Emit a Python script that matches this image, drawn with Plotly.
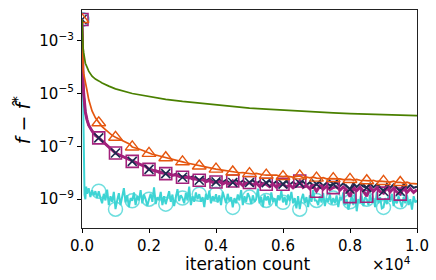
import plotly.graph_objects as go

# ---------------- data ----------------
early_iters = [0, 10, 20, 35, 50, 75, 100, 150, 200, 300, 400]
late_iters = list(range(500, 10001, 100))
iters = early_iters + late_iters

green_iters = [0, 10, 20, 35, 50, 75, 100, 150, 200, 300, 400, 500, 600, 800, 1000,
               1500, 2000, 2500, 3000, 3500, 4000, 4500, 5000, 5500, 6000, 6500,
               7000, 7500, 8000, 8500, 9000, 9500, 10000]
green_vals = [6.3e-3, 1.3e-3, 8.0e-4, 5.0e-4, 3.5e-4, 2.2e-4, 1.4e-4, 1.0e-4, 7.0e-5,
              4.5e-5, 3.5e-5, 3.0e-5, 2.5e-5, 1.9e-5, 1.5e-5,
              1.0e-5, 7.6e-6, 6.0e-6, 5.0e-6, 4.27e-6, 3.6e-6, 3.16e-6, 2.8e-6,
              2.57e-6, 2.34e-6, 2.14e-6, 2.0e-6, 1.86e-6, 1.74e-6, 1.66e-6, 1.58e-6,
              1.51e-6, 1.45e-6]

orange_vals = [6.3e-3, 5.0e-4, 1.8e-4, 8.0e-5, 5.6e-5, 4.0e-5, 3.2e-5, 1.3e-5, 5.9e-6,
               2.2e-6, 1.2e-6,
               7.8e-7, 5.6e-7, 4.3e-7, 3.3e-7, 2.6e-7,
               2.2e-7, 1.9e-7, 1.66e-7, 1.45e-7, 1.26e-7,
               9.5e-8, 8.9e-8, 7.9e-8, 7.1e-8, 6.3e-8,
               5.4e-8, 5.0e-8, 4.7e-8, 4.4e-8, 4.1e-8,
               3.7e-8, 3.5e-8, 3.2e-8, 3.0e-8, 2.8e-8,
               2.6e-8, 2.4e-8, 2.25e-8, 2.15e-8, 2.0e-8,
               1.8e-8, 1.74e-8, 1.66e-8, 1.58e-8, 1.48e-8,
               1.38e-8, 1.32e-8, 1.26e-8, 1.2e-8, 1.15e-8,
               1.07e-8, 1.05e-8, 1.0e-8, 1.02e-8, 9.6e-9,
               9.3e-9, 9.0e-9, 9.4e-9, 8.6e-9, 8.4e-9,
               8.1e-9, 8.0e-9, 7.8e-9, 8.2e-9, 7.5e-9,
               7.2e-9, 7.5e-9, 7.0e-9, 6.9e-9, 7.3e-9,
               7.6e-9, 6.6e-9, 6.9e-9, 6.4e-9, 6.8e-9,
               6.3e-9, 6.1e-9, 6.5e-9, 5.9e-9, 6.0e-9,
               6.0e-9, 5.7e-9, 5.9e-9, 5.5e-9, 5.6e-9,
               5.6e-9, 5.3e-9, 5.6e-9, 5.2e-9, 5.0e-9,
               5.0e-9, 4.9e-9, 5.2e-9, 4.7e-9, 4.8e-9,
               4.7e-9, 4.6e-9, 4.4e-9, 4.8e-9, 4.3e-9,
               4.3e-9, 4.1e-9, 4.4e-9, 4.0e-9, 3.9e-9,
               3.8e-9]

magenta_vals = [6.3e-3, 5.0e-4, 1.0e-4, 2.5e-5, 1.0e-5, 4.0e-6, 2.0e-6, 1.0e-6, 6.3e-7,
                3.8e-7, 2.6e-7,
                2.1e-7, 1.6e-7, 1.2e-7, 9.3e-8, 7.2e-8,
                5.6e-8, 4.8e-8, 4.2e-8, 3.55e-8, 3.1e-8,
                2.7e-8, 2.4e-8, 2.15e-8, 1.9e-8, 1.75e-8,
                1.35e-8, 1.25e-8, 1.2e-8, 1.05e-8, 1.0e-8,
                9.3e-9, 8.8e-9, 8.0e-9, 8.4e-9, 7.4e-9,
                6.8e-9, 6.6e-9, 6.9e-9, 5.8e-9, 6.0e-9,
                5.2e-9, 5.5e-9, 4.6e-9, 5.1e-9, 4.3e-9,
                4.5e-9, 4.7e-9, 3.8e-9, 4.4e-9, 3.6e-9,
                4.9e-9, 3.6e-9, 4.3e-9, 3.3e-9, 4.0e-9,
                4.3e-9, 3.4e-9, 4.1e-9, 3.1e-9, 3.8e-9,
                3.7e-9, 3.0e-9, 3.8e-9, 2.9e-9, 3.6e-9,
                3.7e-9, 2.9e-9, 3.5e-9, 2.7e-9, 3.4e-9,
                4.9e-9, 2.8e-9, 3.3e-9, 2.5e-9, 3.2e-9,
                2.0e-9, 3.1e-9, 2.4e-9, 3.1e-9, 2.3e-9,
                2.75e-9, 3.0e-9, 2.2e-9, 2.9e-9, 2.2e-9,
                1.25e-9, 2.9e-9, 2.1e-9, 2.8e-9, 2.0e-9,
                1.3e-9, 2.8e-9, 2.0e-9, 2.7e-9, 1.9e-9,
                1.7e-9, 2.7e-9, 1.9e-9, 2.6e-9, 1.85e-9,
                1.55e-9, 2.6e-9, 1.8e-9, 2.5e-9, 1.8e-9,
                2.3e-9]

navy_vals = [6.3e-3, 5.0e-4, 1.0e-4, 2.5e-5, 1.0e-5, 4.0e-6, 2.0e-6, 1.0e-6, 6.3e-7,
             3.8e-7, 2.6e-7,
             2.1e-7, 1.6e-7, 1.2e-7, 9.3e-8, 7.2e-8,
             5.6e-8, 4.8e-8, 4.2e-8, 3.55e-8, 3.1e-8,
             2.7e-8, 2.4e-8, 2.15e-8, 1.9e-8, 1.75e-8,
             1.35e-8, 1.3e-8, 1.15e-8, 1.12e-8, 1.0e-8,
             9.3e-9, 9.5e-9, 8.0e-9, 9.0e-9, 7.4e-9,
             6.8e-9, 7.6e-9, 6.2e-9, 7.2e-9, 5.8e-9,
             5.2e-9, 6.4e-9, 5.0e-9, 6.0e-9, 4.8e-9,
             4.5e-9, 5.6e-9, 4.4e-9, 5.3e-9, 4.2e-9,
             4.3e-9, 5.4e-9, 4.0e-9, 5.0e-9, 4.1e-9,
             4.3e-9, 5.2e-9, 3.9e-9, 4.8e-9, 3.8e-9,
             4.2e-9, 5.0e-9, 3.7e-9, 4.7e-9, 3.6e-9,
             3.7e-9, 4.8e-9, 3.6e-9, 4.5e-9, 3.5e-9,
             4.0e-9, 4.6e-9, 3.4e-9, 4.4e-9, 3.3e-9,
             3.7e-9, 4.4e-9, 3.2e-9, 4.2e-9, 3.3e-9,
             3.7e-9, 4.2e-9, 3.1e-9, 4.0e-9, 3.0e-9,
             2.4e-9, 4.0e-9, 2.9e-9, 3.8e-9, 3.0e-9,
             2.75e-9, 3.9e-9, 2.8e-9, 3.7e-9, 2.9e-9,
             2.0e-9, 3.8e-9, 2.7e-9, 3.6e-9, 2.8e-9,
             2.0e-9, 3.7e-9, 2.6e-9, 3.5e-9, 2.7e-9,
             3.0e-9]

cyan_iters = [0, 25, 50, 75, 100, 125, 150, 200, 250, 300, 350, 400, 450] + list(range(500, 10001, 50))
cyan_vals = [6.3e-3, 2.0e-5, 5.0e-8, 1.5e-9, 1.0e-9, 3.0e-9, 1.6e-9, 2.6e-9, 1.2e-9,
             2.2e-9, 1.4e-9, 2.0e-9, 1.1e-9,
             2.0e-9, 1.1e-9, 0.7e-9, 1.6e-9, 0.9e-9, 2.3e-9, 0.6e-9, 1.3e-9, 0.8e-9, 1.9e-9,
             0.42e-9, 0.9e-9, 1.7e-9, 0.6e-9, 1.2e-9, 2.6e-9, 0.75e-9, 1.4e-9, 0.5e-9, 1.1e-9,
             0.87e-9, 1.8e-9, 0.6e-9, 1.3e-9, 0.9e-9, 2.2e-9, 0.7e-9, 1.5e-9, 1.0e-9, 0.55e-9,
             1.0e-9, 1.6e-9, 0.8e-9, 2.8e-9, 0.65e-9, 1.2e-9, 0.9e-9, 1.9e-9, 0.6e-9, 1.3e-9,
             0.65e-9, 1.1e-9, 2.0e-9, 0.8e-9, 1.5e-9, 0.55e-9, 1.2e-9, 2.4e-9, 0.85e-9, 1.4e-9,
             1.1e-9, 0.7e-9, 1.7e-9, 0.9e-9, 3.0e-9, 0.6e-9, 1.3e-9, 0.8e-9, 1.8e-9, 1.0e-9,
             1.55e-9, 0.8e-9, 1.2e-9, 0.5e-9, 1.6e-9, 0.95e-9, 2.1e-9, 0.7e-9, 1.3e-9, 0.9e-9,
             1.55e-9, 0.75e-9, 1.4e-9, 0.6e-9, 1.9e-9, 1.0e-9, 0.7e-9, 1.6e-9, 0.85e-9, 1.2e-9,
             0.49e-9, 1.1e-9, 0.7e-9, 1.5e-9, 0.9e-9, 2.2e-9, 0.6e-9, 1.3e-9, 0.8e-9, 1.7e-9,
             1.2e-9, 0.65e-9, 1.4e-9, 0.8e-9, 1.0e-9, 2.5e-9, 0.7e-9, 1.2e-9, 0.5e-9, 1.5e-9,
             0.9e-9, 1.3e-9, 0.6e-9, 1.8e-9, 0.8e-9, 1.1e-9, 0.55e-9, 1.4e-9, 0.9e-9, 2.0e-9,
             0.76e-9, 1.2e-9, 0.6e-9, 1.5e-9, 0.85e-9, 1.9e-9, 0.7e-9, 1.1e-9, 0.45e-9, 1.3e-9,
             0.42e-9, 1.0e-9, 1.6e-9, 0.7e-9, 1.2e-9, 0.5e-9, 1.4e-9, 0.8e-9, 2.2e-9, 0.9e-9,
             0.9e-9, 0.6e-9, 1.3e-9, 0.75e-9, 1.7e-9, 0.55e-9, 1.1e-9, 0.8e-9, 1.5e-9, 0.65e-9,
             1.1e-9, 0.7e-9, 1.4e-9, 0.5e-9, 1.2e-9, 0.9e-9, 1.8e-9, 0.6e-9, 1.0e-9, 0.4e-9,
             0.8e-9, 1.3e-9, 0.6e-9, 1.6e-9, 0.35e-9, 1.0e-9, 0.7e-9, 1.4e-9, 0.55e-9, 1.2e-9,
             1.0e-9, 0.6e-9, 1.5e-9, 0.75e-9, 1.1e-9, 0.5e-9, 1.9e-9, 0.7e-9, 1.2e-9, 0.45e-9,
             0.49e-9, 1.1e-9, 0.65e-9, 1.4e-9, 0.8e-9, 1.6e-9, 0.55e-9, 1.0e-9, 0.7e-9, 1.3e-9,
             0.8e-9, 0.5e-9, 1.2e-9, 0.7e-9, 1.5e-9, 0.6e-9, 1.0e-9, 0.4e-9, 1.3e-9, 0.75e-9,
             0.9e-9]

marker_iters = list(range(0, 10000, 500))
x_tick_vals = [0, 2000, 4000, 6000, 8000, 10000]
x_tick_text = ["0.0", "0.2", "0.4", "0.6", "0.8", "1.0"]
y_tick_vals = [1e-9, 1e-7, 1e-5, 1e-3]
y_tick_text = ["10<sup>−9</sup>", "10<sup>−7</sup>", "10<sup>−5</sup>", "10<sup>−3</sup>"]

GREEN = "#4a8000"
ORANGE = "#e5560f"
MAGENTA = "#a3217c"
NAVY = "#1c2a4f"
CYAN = "#3ed4d4"


def pick(xs, ys):
    d = dict(zip(xs, ys))
    mx = [m for m in marker_iters if m in d]
    return mx, [d[m] for m in mx]


fig = go.Figure()

# cyan
fig.add_trace(go.Scatter(x=cyan_iters, y=cyan_vals, mode="lines",
                         line=dict(color=CYAN, width=2), showlegend=False))
mx, my = pick(cyan_iters, cyan_vals)
fig.add_trace(go.Scatter(x=mx, y=my, mode="markers", opacity=0.75,
                         marker=dict(symbol="circle-open", size=14, color=CYAN,
                                     line=dict(width=1.5, color=CYAN)),
                         showlegend=False))
# navy
fig.add_trace(go.Scatter(x=iters, y=navy_vals, mode="lines",
                         line=dict(color=NAVY, width=2), showlegend=False))
# magenta
fig.add_trace(go.Scatter(x=iters, y=magenta_vals, mode="lines",
                         line=dict(color=MAGENTA, width=3), showlegend=False))
mx, my = pick(iters, magenta_vals)
fig.add_trace(go.Scatter(x=mx, y=my, mode="markers",
                         marker=dict(symbol="square-open", size=12, color=MAGENTA,
                                     line=dict(width=1.6, color=MAGENTA)),
                         showlegend=False))
mx, my = pick(iters, navy_vals)
fig.add_trace(go.Scatter(x=mx, y=my, mode="markers",
                         marker=dict(symbol="x-thin", size=9, color=NAVY,
                                     line=dict(width=1.6, color=NAVY)),
                         showlegend=False))
# orange
fig.add_trace(go.Scatter(x=iters, y=orange_vals, mode="lines",
                         line=dict(color=ORANGE, width=1.7), showlegend=False))
mx, my = pick(iters, orange_vals)
fig.add_trace(go.Scatter(x=mx, y=my, mode="markers",
                         marker=dict(symbol="triangle-up-open", size=12, color=ORANGE,
                                     line=dict(width=1.4, color=ORANGE)),
                         showlegend=False))
# green
fig.add_trace(go.Scatter(x=green_iters, y=green_vals, mode="lines",
                         line=dict(color=GREEN, width=1.7), showlegend=False))

font = "DejaVu Sans, Arial, sans-serif"
fig.update_layout(
    width=436, height=280,
    margin=dict(l=82, r=19, t=10, b=52),
    paper_bgcolor="white", plot_bgcolor="white",
    font=dict(family=font, size=15, color="black"),
    xaxis=dict(range=[0, 10000], tickvals=x_tick_vals, ticktext=x_tick_text,
               ticks="outside", ticklen=4, tickwidth=1, tickcolor="black",
               showline=True, linecolor="#222", linewidth=1.2, mirror=True,
               showgrid=False, zeroline=False, automargin=False),
    yaxis=dict(type="log", range=[-10.09, -1.84], tickvals=y_tick_vals,
               ticktext=y_tick_text,
               ticks="outside", ticklen=4, tickwidth=1, tickcolor="black",
               showline=True, linecolor="#222", linewidth=1.2, mirror=True,
               showgrid=False, zeroline=False, automargin=False),
    annotations=[
        dict(text="iteration count", xref="paper", yref="paper",
             x=0.496, y=-0.165, xanchor="center", yanchor="middle",
             showarrow=False, font=dict(size=17)),
        dict(text="<i>f</i> − <i>f̂</i><sup>*</sup>", xref="paper", yref="paper",
             x=-0.179, y=0.495, xanchor="center", yanchor="middle", textangle=-90,
             showarrow=False, font=dict(size=19)),
        dict(text="×10<sup>4</sup>", xref="paper", yref="paper",
             x=0.988, y=-0.165, xanchor="right", yanchor="middle",
             showarrow=False, font=dict(size=15)),
    ],
)

fig.write_html("out.html", config={"displayModeBar": False},
               post_script="document.body.style.margin='0px';")
